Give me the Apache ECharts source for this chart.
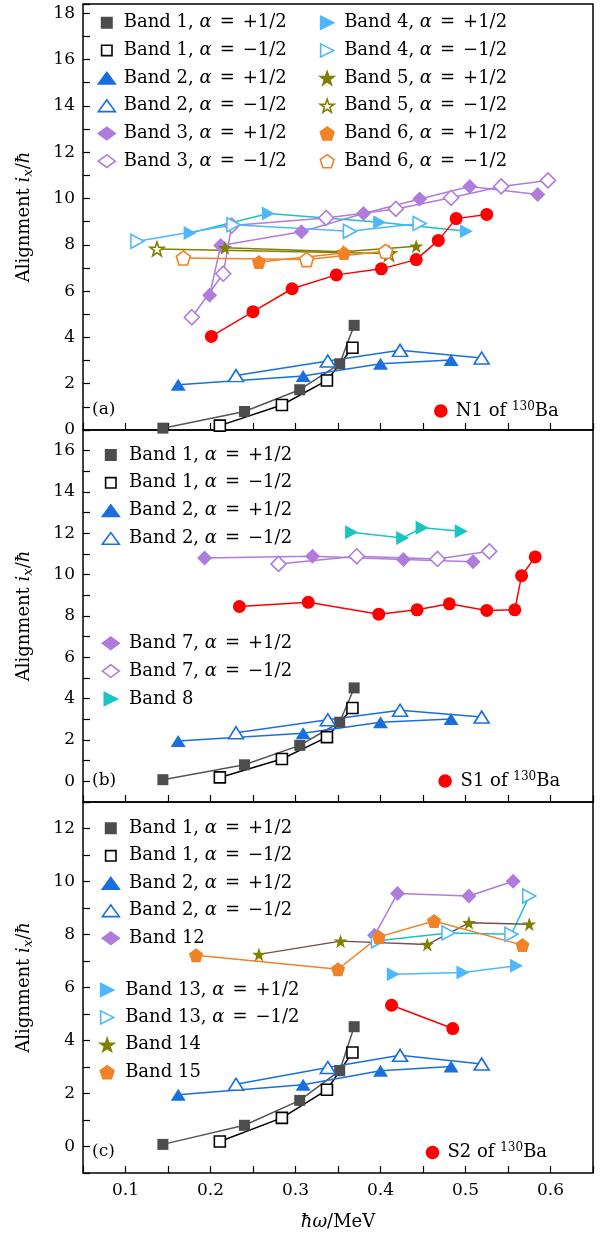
<!DOCTYPE html>
<html>
<head>
<meta charset="utf-8">
<script src="https://cdn.jsdelivr.net/npm/echarts@6/dist/echarts.min.js"></script>
<style>html,body{margin:0;background:#fff}#main{width:600px;height:1234px}</style>
</head>
<body>
<div id="main"></div>
<script>
// values: [hbar*omega (MeV), alignment i_x (hbar)]
var band1P = [[0.144,0.08],[0.240,0.80],[0.305,1.74],[0.352,2.86],[0.369,4.52]];
var band1M = [[0.211,0.19],[0.284,1.08],[0.337,2.14],[0.367,3.55]];
var band2P = [[0.162,1.95],[0.309,2.33],[0.400,2.86],[0.483,3.02]];
var band2M = [[0.230,2.35],[0.338,2.98],[0.423,3.44],[0.519,3.11]];
var band3P = [[0.199,5.82],[0.212,7.97],[0.307,8.56],[0.380,9.35],[0.446,9.98],[0.505,10.52],[0.585,10.17]];
var band3M = [[0.178,4.87],[0.215,6.75],[0.225,8.83],[0.336,9.16],[0.418,9.55],[0.483,10.03],[0.542,10.52],[0.597,10.78]];
var band4P = [[0.176,8.51],[0.268,9.35],[0.399,8.97],[0.501,8.58]];
var band4M = [[0.114,8.15],[0.227,8.87],[0.364,8.58],[0.446,8.92]];
var band5P = [[0.217,7.87],[0.356,7.70],[0.442,7.94]];
var band5M = [[0.137,7.82],[0.410,7.62]];
var band6P = [[0.257,7.26],[0.357,7.65]];
var band6M = [[0.168,7.43],[0.313,7.36],[0.406,7.72]];
var n1 = [[0.201,4.04],[0.250,5.11],[0.296,6.10],[0.348,6.70],[0.401,6.96],[0.442,7.36],[0.468,8.19],[0.489,9.13],[0.525,9.31]];

var band7P = [[0.193,10.81],[0.320,10.89],[0.427,10.73],[0.509,10.62]];
var band7M = [[0.280,10.52],[0.372,10.89],[0.467,10.76],[0.528,11.13]];
var band8 = [[0.366,12.05],[0.426,11.78],[0.449,12.27],[0.495,12.10]];
var s1 = [[0.234,8.46],[0.315,8.66],[0.398,8.09],[0.443,8.30],[0.481,8.59],[0.525,8.27],[0.558,8.30],[0.566,9.95],[0.582,10.86]];

var band12 = [[0.393,7.97],[0.420,9.55],[0.504,9.45],[0.556,10.01]];
var band13P = [[0.415,6.50],[0.497,6.57],[0.560,6.82]];
var band13M = [[0.397,7.76],[0.480,8.06],[0.554,8.01],[0.575,9.45]];
var band14 = [[0.257,7.25],[0.353,7.75],[0.455,7.62],[0.504,8.44],[0.575,8.39]];
var band15 = [[0.183,7.22],[0.350,6.69],[0.398,7.91],[0.463,8.51],[0.567,7.60]];
var s2 = [[0.413,5.33],[0.485,4.45]];

var xTicks = ['0.1','0.2','0.3','0.4','0.5','0.6'];

var FONT = 'DejaVu Serif';
var RTRI = 'path://M0,0L12,7L0,14Z';
var STAR = 'path://M50,2L61.8,36.2L97.6,36.2L68.8,57.6L79.4,92.6L50,71.2L20.6,92.6L31.2,57.6L2.4,36.2L38.2,36.2Z';
var PENT = 'path://M50,2L97.6,36.6L79.4,92.4L20.6,92.4L2.4,36.6Z';
// legend icon shapes, sized like the figure's key
var L_SQ = 'path://M-1.5,-1.5L-1.5,-1.5M0,0L12,0L12,12L0,12ZM13.5,13.5L13.5,13.5';
var L_TRI = 'path://M0,11L8,0L16,11Z';
var L_DIA = 'path://M0,7L9.5,0L19,7L9.5,14Z';
var L_RTRI = 'path://M0,0L14,7L0,14Z';

var GRAY = '#4d4d4d', BLUE = '#1a6fdf', PURPLE = '#b07cdc', SKY = '#4db8ff',
    TEAL = '#1cc3c3', OLIVE = '#808000', ORANGE = '#f08228', RED = '#ff0000', BROWN = '#7a4b4b';

// name -> style
var styles = {};
function st(name, symbol, icon, color, hollow, line, size) {
  styles[name] = {symbol: symbol, icon: icon, color: color, hollow: hollow, line: line, size: size};
}
st('Band 1, α = +1/2', 'rect', L_SQ, GRAY, false, '#555555', 11);
st('Band 1, α = −1/2', 'rect', L_SQ, '#000000', true, '#000000', 11);
st('Band 2, α = +1/2', 'triangle', L_TRI, BLUE, false, BLUE, [15, 12]);
st('Band 2, α = −1/2', 'triangle', L_TRI, BLUE, true, BLUE, [15, 12]);
st('Band 3, α = +1/2', 'diamond', L_DIA, PURPLE, false, PURPLE, 15);
st('Band 3, α = −1/2', 'diamond', L_DIA, PURPLE, true, PURPLE, 15);
st('Band 4, α = +1/2', RTRI, L_RTRI, SKY, false, TEAL, [13, 14]);
st('Band 4, α = −1/2', RTRI, L_RTRI, SKY, true, SKY, [13, 14]);
st('Band 5, α = +1/2', STAR, STAR, OLIVE, false, OLIVE, 14);
st('Band 5, α = −1/2', STAR, STAR, OLIVE, true, OLIVE, 14);
st('Band 6, α = +1/2', PENT, PENT, ORANGE, false, ORANGE, 14);
st('Band 6, α = −1/2', PENT, PENT, ORANGE, true, ORANGE, 14);
st('N1 of 130Ba', 'circle', 'circle', RED, false, RED, 13);
st('Band 7, α = +1/2', 'diamond', L_DIA, PURPLE, false, PURPLE, 15);
st('Band 7, α = −1/2', 'diamond', L_DIA, PURPLE, true, PURPLE, 15);
st('Band 8', RTRI, L_RTRI, TEAL, false, TEAL, [13, 14]);
st('S1 of 130Ba', 'circle', 'circle', RED, false, RED, 13);
st('Band 12', 'diamond', L_DIA, PURPLE, false, PURPLE, 15);
st('Band 13, α = +1/2', RTRI, L_RTRI, SKY, false, SKY, [13, 14]);
st('Band 13, α = −1/2', RTRI, L_RTRI, SKY, true, TEAL, [13, 14]);
st('Band 14', STAR, STAR, OLIVE, false, BROWN, 14);
st('Band 15', PENT, PENT, ORANGE, false, ORANGE, 14);
st('S2 of 130Ba', 'circle', 'circle', RED, false, RED, 13);

function itemStyleOf(s) {
  return s.hollow ? {color: '#ffffff', borderColor: s.color, borderWidth: 1.6}
                  : {color: s.color, borderColor: s.color, borderWidth: 0};
}

var series = [];
function add(name, data, g) {
  var s = styles[name];
  series.push({
    name: name, type: 'line', xAxisIndex: g, yAxisIndex: g, data: data,
    symbol: s.symbol, symbolSize: s.size, showAllSymbol: true,
    itemStyle: itemStyleOf(s), lineStyle: {color: s.line, width: 1.5},
    emphasis: {disabled: true}
  });
}

add('Band 1, α = +1/2', band1P, 0);
add('Band 1, α = −1/2', band1M, 0);
add('Band 2, α = +1/2', band2P, 0);
add('Band 2, α = −1/2', band2M, 0);
add('Band 3, α = +1/2', band3P, 0);
add('Band 3, α = −1/2', band3M, 0);
add('Band 4, α = +1/2', band4P, 0);
add('Band 4, α = −1/2', band4M, 0);
add('Band 5, α = +1/2', band5P, 0);
add('Band 5, α = −1/2', band5M, 0);
add('Band 6, α = +1/2', band6P, 0);
add('Band 6, α = −1/2', band6M, 0);
add('N1 of 130Ba', n1, 0);

add('Band 1, α = +1/2', band1P, 1);
add('Band 1, α = −1/2', band1M, 1);
add('Band 2, α = +1/2', band2P, 1);
add('Band 2, α = −1/2', band2M, 1);
add('Band 7, α = +1/2', band7P, 1);
add('Band 7, α = −1/2', band7M, 1);
add('Band 8', band8, 1);
add('S1 of 130Ba', s1, 1);

add('Band 1, α = +1/2', band1P, 2);
add('Band 1, α = −1/2', band1M, 2);
add('Band 2, α = +1/2', band2P, 2);
add('Band 2, α = −1/2', band2M, 2);
add('Band 12', band12, 2);
add('Band 13, α = +1/2', band13P, 2);
add('Band 13, α = −1/2', band13M, 2);
add('Band 14', band14, 2);
add('Band 15', band15, 2);
add('S2 of 130Ba', s2, 2);

var rich = {
  a: {fontFamily: FONT, fontSize: 18, fontStyle: 'italic', color: '#000'},
  eq: {fontFamily: FONT, fontSize: 18, color: '#000', padding: [0, 8, 0, 8]},
  s: {fontFamily: FONT, fontSize: 12, color: '#000', padding: [0, 0, 9, 0]}
};
function legend(names, left, top, gap, padLeft, w) {
  return {
    orient: 'vertical', left: left, top: top, itemGap: gap, padding: 0,
    itemWidth: w, itemHeight: w === 12 ? 12 : 13, selectedMode: false,
    data: names.map(function (n) {
      var s = styles[n];
      return {name: n, icon: s.icon,
        itemStyle: s.hollow ? {color: '#ffffff', borderColor: s.color, borderWidth: 1.6}
                            : {color: s.color, borderColor: s.color, borderWidth: 1.6}};
    }),
    formatter: function (n) {
      return n.replace(' = ', '{eq|=}').replace('α', '{a|α}').replace('130Ba', '{s|130}Ba');
    },
    textStyle: {fontFamily: FONT, fontSize: 18, color: '#000', padding: [0, 0, 0, padLeft], rich: rich}
  };
}

var grids = [
  {left: 83, top: 4, width: 510, height: 426},
  {left: 83, top: 430, width: 510, height: 372},
  {left: 83, top: 802, width: 510, height: 371}
];
var yRanges = [[0, 18.4], [-1, 17], [-1, 13]];
var yTop = [18, 16, 12];

var xAxes = [], yAxes = [];
grids.forEach(function (g, i) {
  g.show = true; g.borderColor = '#000'; g.borderWidth = 1.5; g.backgroundColor = 'transparent';
  xAxes.push({
    type: 'value', gridIndex: i, position: 'bottom', min: 0.05, max: 0.65, interval: 0.05,
    name: i === 2 ? '{it|ħω}/MeV' : '', nameLocation: 'middle', nameGap: 40,
    nameTextStyle: {fontFamily: FONT, fontSize: 18, color: '#000',
      rich: {it: {fontFamily: FONT, fontSize: 18, fontStyle: 'italic', color: '#000'}}},
    axisLine: {show: false, onZero: false},
    axisTick: {show: true, inside: true, length: 7, lineStyle: {color: '#000', width: 1.2}},
    splitLine: {show: false},
    axisLabel: {
      show: i === 2, margin: 9, fontFamily: FONT, fontSize: 17, color: '#000',
      formatter: function (v) {
        var k = Math.round(v * 100);
        return (k % 10 === 0 && xTicks.indexOf((k / 100).toFixed(1)) >= 0) ? (k / 100).toFixed(1) : '';
      }
    }
  });
  yAxes.push({
    type: 'value', gridIndex: i, position: 'left', min: yRanges[i][0], max: yRanges[i][1], interval: 1,
    name: 'Alignment {it|i}{sub|x}/{it|ħ}', nameLocation: 'middle', nameGap: 48,
    nameTextStyle: {fontFamily: FONT, fontSize: 18, color: '#000',
      rich: {it: {fontFamily: FONT, fontSize: 18, fontStyle: 'italic', color: '#000'},
             sub: {fontFamily: FONT, fontSize: 13, fontStyle: 'italic', color: '#000', padding: [8, 0, 0, 0]}}},
    axisLine: {show: false, onZero: false},
    axisTick: {show: true, inside: true, length: 7, interval: 0, lineStyle: {color: '#000', width: 1.2}},
    splitLine: {show: false},
    axisLabel: {
      margin: 8, interval: 0, fontFamily: FONT, fontSize: 17, color: '#000',
      formatter: function (v) {
        var r = Math.round(v);
        return (Math.abs(v - r) < 1e-6 && r % 2 === 0 && r >= 0 && r <= yTop[i]) ? String(r) : '';
      }
    }
  });
});

var myChart = echarts.init(document.getElementById('main'), null, {renderer: 'canvas'});
var option = {
  animation: false,
  backgroundColor: '#fff',
  grid: grids,
  xAxis: xAxes,
  yAxis: yAxes,
  legend: [
    legend(['Band 1, α = +1/2','Band 1, α = −1/2','Band 2, α = +1/2','Band 2, α = −1/2','Band 3, α = +1/2','Band 3, α = −1/2'], 97.5, 13.7, 9.7, 3.5, 17),
    legend(['Band 4, α = +1/2','Band 4, α = −1/2','Band 5, α = +1/2','Band 5, α = −1/2','Band 6, α = +1/2','Band 6, α = −1/2'], 319.5, 13.7, 9.7, 3.5, 17),
    legend(['N1 of 130Ba'], 434, 400.5, 10, 4, 12),
    legend(['Band 1, α = +1/2','Band 1, α = −1/2','Band 2, α = +1/2','Band 2, α = −1/2'], 101.5, 446, 9.8, 4.8, 17),
    legend(['Band 7, α = +1/2','Band 7, α = −1/2','Band 8'], 101.5, 634.3, 9.8, 4.8, 17),
    legend(['S1 of 130Ba'], 438.3, 770.5, 10, 4.5, 12),
    legend(['Band 1, α = +1/2','Band 1, α = −1/2','Band 2, α = +1/2','Band 2, α = −1/2','Band 12'], 101.5, 819.3, 9.5, 4.8, 17),
    legend(['Band 13, α = +1/2','Band 13, α = −1/2','Band 14','Band 15'], 99.5, 981, 9.4, 4.5, 17),
    legend(['S2 of 130Ba'], 425.7, 1142, 10, 4, 12)
  ],
  graphic: [
    {type: 'text', left: 92, top: 401, style: {text: '(a)', font: '17px "DejaVu Serif"', fill: '#000'}},
    {type: 'text', left: 92, top: 772, style: {text: '(b)', font: '17px "DejaVu Serif"', fill: '#000'}},
    {type: 'text', left: 92, top: 1143, style: {text: '(c)', font: '17px "DejaVu Serif"', fill: '#000'}}
  ],
  series: series
};
myChart.setOption(option);
</script>
</body>
</html>
